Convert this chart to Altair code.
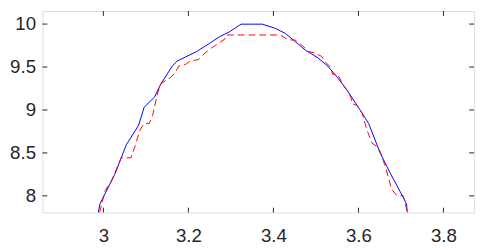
import altair as alt
import pandas as pd

# ---- data ----
blue_x = [2.988, 2.992, 3.027, 3.054, 3.083, 3.096, 3.120, 3.135, 3.162, 3.173, 3.220,
          3.250, 3.274, 3.297, 3.324, 3.374, 3.405, 3.428, 3.451, 3.474, 3.505, 3.528,
          3.551, 3.574, 3.597, 3.624, 3.651, 3.674, 3.701, 3.713, 3.715]
blue_y = [7.805, 7.908, 8.252, 8.595, 8.824, 9.033, 9.148, 9.301, 9.510, 9.568, 9.682,
          9.777, 9.854, 9.911, 9.999, 9.999, 9.949, 9.891, 9.797, 9.701, 9.605, 9.510,
          9.376, 9.224, 9.053, 8.843, 8.500, 8.271, 8.023, 7.908, 7.805]

red_x = [2.991, 3.004, 3.019, 3.042, 3.065, 3.074, 3.086, 3.096, 3.108, 3.116, 3.127,
         3.135, 3.150, 3.158, 3.169, 3.177, 3.193, 3.204, 3.224, 3.239, 3.254, 3.277,
         3.285, 3.289, 3.416, 3.435, 3.451, 3.466, 3.482, 3.497, 3.513, 3.524, 3.536,
         3.539, 3.551, 3.563, 3.574, 3.582, 3.586, 3.597, 3.609, 3.620, 3.632, 3.643,
         3.651, 3.663, 3.678, 3.690, 3.705, 3.709, 3.715]
red_y = [7.805, 8.061, 8.175, 8.443, 8.443, 8.572, 8.767, 8.843, 8.843, 8.938, 9.186,
         9.301, 9.358, 9.376, 9.434, 9.510, 9.530, 9.568, 9.587, 9.662, 9.720, 9.797,
         9.823, 9.873, 9.873, 9.816, 9.814, 9.759, 9.682, 9.662, 9.625, 9.548, 9.491,
         9.415, 9.415, 9.301, 9.224, 9.148, 9.072, 9.053, 8.958, 8.767, 8.614, 8.576,
         8.518, 8.347, 8.080, 8.003, 8.003, 7.946, 7.805]

x_ticks = [3, 3.2, 3.4, 3.6, 3.8]
y_ticks = [8, 8.5, 9, 9.5, 10]
x_domain = [2.8566, 3.872]
y_domain = [7.8055, 10.152]

W, H = 439, 205
INK = "#262626"
FONT = "Liberation Sans"
FS = 19

xs = alt.Scale(domain=x_domain, nice=False, zero=False)
ys = alt.Scale(domain=y_domain, nice=False, zero=False)

x_axis = alt.Axis(values=x_ticks, ticks=False, tickSize=0, domain=False, grid=False,
                  labelPadding=14, labelFontSize=FS, labelFont=FONT, labelColor=INK,
                  title=None, format="~g", labelOverlap=False, labelFlush=False)
y_axis = alt.Axis(values=y_ticks, ticks=False, tickSize=0, domain=False, grid=False,
                  labelPadding=7, labelFontSize=FS, labelFont=FONT, labelColor=INK,
                  title=None, format="~g", labelOverlap=False, labelFlush=False)

bdf = pd.DataFrame({"x": blue_x, "y": blue_y, "i": list(range(len(blue_x)))})
rdf = pd.DataFrame({"x": red_x, "y": red_y, "i": list(range(len(red_x)))})

blue = alt.Chart(bdf).mark_line(color="#0000ff", strokeWidth=1, clip=True).encode(
    x=alt.X("x:Q", scale=xs, axis=x_axis),
    y=alt.Y("y:Q", scale=ys, axis=y_axis),
    order="i:Q",
)
red = alt.Chart(rdf).mark_line(color="#ff0000", strokeWidth=1, strokeDash=[7, 4], clip=True).encode(
    x=alt.X("x:Q", scale=xs, axis=x_axis),
    y=alt.Y("y:Q", scale=ys, axis=y_axis),
    order="i:Q",
)

xt = pd.DataFrame({"t": x_ticks})
yt = pd.DataFrame({"t": y_ticks})
TL = 5
top_ticks = alt.Chart(xt).mark_rule(color=INK, strokeWidth=1).encode(
    x=alt.X("t:Q", scale=xs, axis=x_axis), y=alt.value(0), y2=alt.value(TL))
bot_ticks = alt.Chart(xt).mark_rule(color=INK, strokeWidth=1).encode(
    x=alt.X("t:Q", scale=xs, axis=x_axis), y=alt.value(H), y2=alt.value(H - TL))
left_ticks = alt.Chart(yt).mark_rule(color=INK, strokeWidth=1).encode(
    y=alt.Y("t:Q", scale=ys, axis=y_axis), x=alt.value(0), x2=alt.value(TL))
right_ticks = alt.Chart(yt).mark_rule(color=INK, strokeWidth=1).encode(
    y=alt.Y("t:Q", scale=ys, axis=y_axis), x=alt.value(W), x2=alt.value(W - TL))

chart = alt.layer(blue, red, top_ticks, bot_ticks, left_ticks, right_ticks).properties(
    width=W, height=H,
    autosize=alt.AutoSizeParams(type="none"),
    padding={"left": 35, "top": 1, "right": 4, "bottom": 36},
).configure_view(stroke=INK, strokeWidth=1).configure(background="white")

chart.save("out.html", embed_options={"renderer": "svg", "actions": False})
